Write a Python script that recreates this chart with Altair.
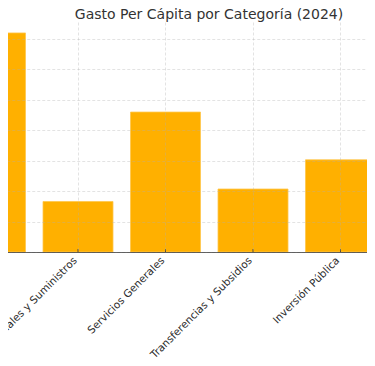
import altair as alt
import pandas as pd

categories = [
    "Servicios Personales",
    "Materiales y Suministros",
    "Servicios Generales",
    "Transferencias y Subsidios",
    "Inversión Pública",
    "Deuda Pública",
]
values = [7200, 1660, 4600, 2070, 3030, 1200]
y_ticks = [0, 1000, 2000, 3000, 4000, 5000, 6000, 7000]

df = pd.DataFrame({"Categoría": categories, "Gasto": values})

W, H = 359, 230
FONT = "DejaVu Sans"

xscale = alt.Scale(domain=categories, range=[-96.25, 498.75],
                   paddingInner=0.2, paddingOuter=0.5)
yscale = alt.Scale(domain=[0, max(values) * 1.05], nice=False, zero=True)

x_axis = alt.Axis(labelAngle=-45, labelAlign="right", labelBaseline="top",
                  labelFont=FONT, labelFontSize=10.5, labelColor="#2b2b2b",
                  labelPadding=3, labelOffset=-6, ticks=False,
                  domainColor="#333", domainOpacity=0.75, domainWidth=1,
                  grid=True, gridDash=[3, 2], gridColor="#b0b0b0",
                  gridOpacity=0.35, zindex=1, labelOverlap=False)

bars = alt.Chart(df).mark_bar(color="#FFB000", stroke="#FFC64D", strokeWidth=0.8).encode(
    x=alt.X("Categoría:N", scale=xscale, sort=categories, title=None, axis=x_axis),
    y=alt.Y("Gasto:Q", scale=yscale, title=None,
            axis=alt.Axis(values=y_ticks, labels=False, ticks=False, domain=False,
                          grid=True, gridDash=[3, 2], gridColor="#b0b0b0",
                          gridOpacity=0.35, zindex=1)),
)

ticks = alt.Chart(df).mark_rule(color="#333", strokeWidth=1, opacity=0.8).encode(
    x=alt.X("Categoría:N", scale=xscale, sort=categories, title=None, axis=x_axis),
    y=alt.value(H - 3),
    y2=alt.value(H),
)

chart = alt.layer(bars, ticks).properties(
    width=W,
    height=H,
    title=alt.TitleParams(
        text="Gasto Per Cápita por Categoría (2024)",
        font=FONT, fontSize=14, fontWeight="normal", color="#333",
        anchor="middle", dx=21.5, dy=15, baseline="alphabetic", offset=4,
    ),
    padding={"left": 0, "top": 14, "right": 0, "bottom": 106},
    autosize=alt.AutoSizeParams(type="none"),
    background="white",
).configure_view(stroke=None)

chart.save("out.html", embed_options={"renderer": "svg", "actions": False})
